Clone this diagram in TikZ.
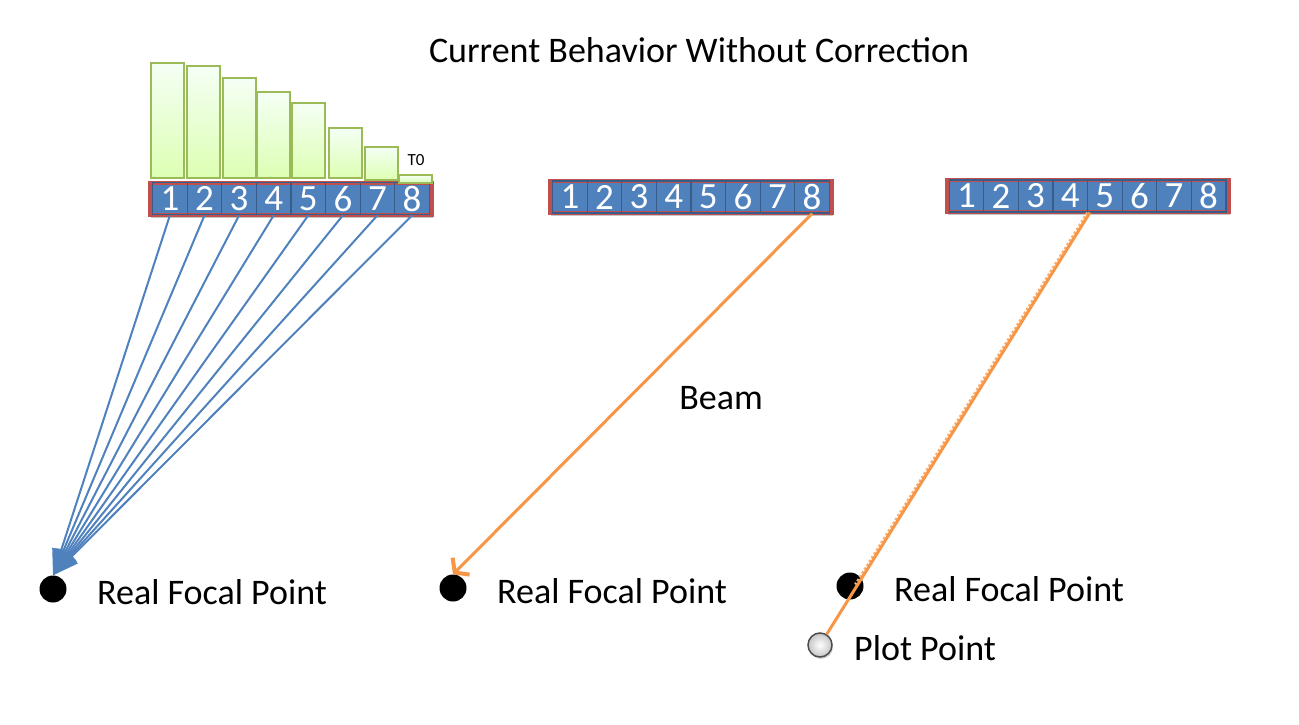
\documentclass[tikz,border=0pt]{standalone}
\usepackage{fontspec}
\setmainfont{Carlito}
\usetikzlibrary{arrows.meta, positioning, calc, shadows}

\definecolor{cellblue}{HTML}{4F81BD}
\definecolor{celledge}{HTML}{385D8A}
\definecolor{framered}{HTML}{C0504D}
\definecolor{beamorange}{HTML}{F79646}
\definecolor{baredge}{HTML}{9BBB59}

\begin{document}
\begin{tikzpicture}[
    x=1pt, y=-1pt,
    frame/.style={draw=framered, line width=4pt, fill=cellblue, minimum width=282pt, minimum height=32pt, inner sep=0pt,
      drop shadow={shadow xshift=1pt, shadow yshift=-3pt, opacity=0.45}},
    cell/.style={draw=celledge, line width=1.2pt, minimum width=34.6pt, minimum height=32pt, inner sep=0pt,
      text=white, font=\fontsize{37}{40}\selectfont},
    bar/.style={draw=baredge, line width=2pt, top color=green!4!white, bottom color=green!45!yellow!30!white},
    dot/.style={circle, fill=black, minimum size=27pt, inner sep=0pt},
    lbl/.style={anchor=west, font=\fontsize{36}{42}\selectfont, inner sep=0pt},
    rayA/.style={draw=cellblue, line width=2pt, -{Triangle[length=26pt, width=18pt]}},
    rayB/.style={draw=beamorange, line width=3pt, -{Straight Barb[length=9pt, width=24pt, line width=4pt]}},
    rayC/.style={draw=beamorange, line width=3pt}
]
\useasboundingbox (0,0) rectangle (1299,725);

% Title
\node[font=\fontsize{36}{42}\selectfont] (title) at (699,50) {Current Behavior Without Correction};

% Transducer arrays
\foreach \a/\cx/\cy in {A/291/198.7, B/691/197, C/1087.5/196} {
  \node[frame] (frame\a) at (\cx,\cy) {};
  \foreach \i in {1,...,8}
    \node[cell] (\a\i) at ({\cx+(\i-4.5)*34.6},\cy) {\i};
}

% Delay bars over array A
\foreach \x/\t/\b in {150.7/62.7/178, 186.7/65.7/178, 222.7/77.7/178, 256.7/91.7/178,
    292/103.3/178, 328.7/127.7/178, 364.7/146.7/180, 399.3/175.3/182.7}
  \draw[bar] (\x,\t) rectangle ++(33,{\b-\t});
\node[font=\fontsize{17}{19}\selectfont] (tzero) at (416,160) {T0};

% Focal points
\node[dot] (fpA) at (53,589) {};
\node[dot] (fpB) at (453,588) {};
\node[dot] (fpC) at (850,586) {};
\node[circle, draw=gray!60!black, line width=1.5pt, inner color=white, outer color=gray!45, minimum size=24pt, inner sep=0pt,
  drop shadow={shadow xshift=1pt, shadow yshift=-2pt, opacity=0.35}] (pp) at (820,645) {};

\node[lbl] (txtA) at (97,592) {Real Focal Point};
\node[lbl] (txtB) at (497,591) {Real Focal Point};
\node[lbl] (txtC) at (894,589) {Real Focal Point};
\node[lbl] (txtP) at (854,648) {Plot Point};
\node[font=\fontsize{36}{42}\selectfont] (beam) at (721,398) {Beam};

% Beams
\foreach \i in {1,...,8}
  \draw[rayA] (A\i.south) -- (fpA.north);
\draw[rayB] (B8.south) -- (fpB.north);
\coordinate (cStart) at ([xshift=3pt]C5.south west);
\coordinate (cEnd) at ($(cStart)!0.86!(pp)$);
\draw[beamorange!75, line width=2.5pt, dotted] ([xshift=-2.5pt]cStart) -- ([xshift=-2.5pt]cEnd);
\draw[rayC] (cStart) -- (pp);

\end{tikzpicture}
\end{document}
